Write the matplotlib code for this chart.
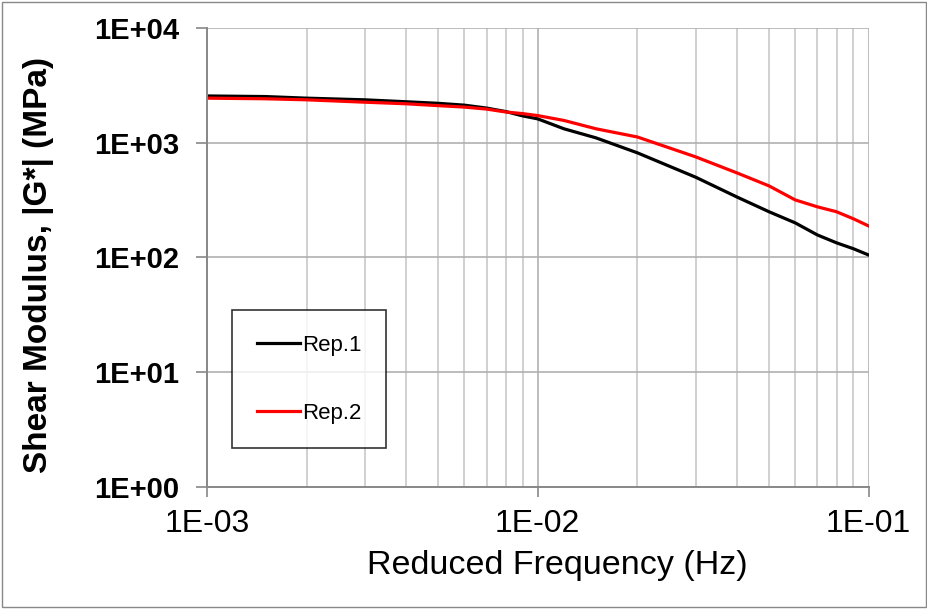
import matplotlib
matplotlib.use("Agg")
import matplotlib.pyplot as plt
from matplotlib.ticker import LogLocator, FixedLocator, NullFormatter

plt.rcParams['font.family'] = ['Liberation Sans', 'DejaVu Sans']

# reduced frequency (Hz)
freq = [1e-3, 1.5e-3, 2e-3, 3e-3, 4e-3, 5e-3, 6e-3, 7e-3, 8e-3, 9e-3, 1e-2,
        1.2e-2, 1.5e-2, 2e-2, 3e-2, 4e-2, 5e-2, 6e-2, 7e-2, 8e-2, 9e-2, 1e-1]
# |G*| in MPa
rep1 = [2550, 2520, 2440, 2360, 2270, 2200, 2120, 2000, 1865, 1710, 1610,
        1320, 1100, 815, 500, 336, 250, 200, 157, 134, 119, 105]
rep2 = [2440, 2410, 2360, 2250, 2180, 2100, 2040, 1960, 1850, 1790, 1720,
        1560, 1320, 1120, 752, 545, 420, 317, 276, 250, 217, 188]

fig = plt.figure(figsize=(9.28, 6.09), dpi=100)
ax = fig.add_axes([0.223, 0.2003, 0.713, 0.754])

ax.plot(freq, rep1, color='black', lw=2.3, label='Rep.1')
ax.plot(freq, rep2, color='#ff0000', lw=2.3, label='Rep.2')

ax.set_xscale('log')
ax.set_yscale('log')
ax.set_xlim(1e-3, 1e-1)
ax.set_ylim(1, 1e4)

xt = [1e-3, 1e-2, 1e-1]
xt_labels = ['1E-03', '1E-02', '1E-01']
yt = [1, 10, 100, 1000, 10000]
yt_labels = ['1E+00', '1E+01', '1E+02', '1E+03', '1E+04']
ax.set_xticks(xt)
ax.set_xticklabels(xt_labels, fontsize=23)
ax.set_yticks(yt)
ax.set_yticklabels(yt_labels, fontsize=21, fontweight='bold')
ax.xaxis.set_minor_locator(LogLocator(base=10, subs=range(2, 10)))
ax.xaxis.set_minor_formatter(NullFormatter())
ax.yaxis.set_minor_locator(FixedLocator([]))

ax.grid(True, which='major', color='#b0b0b0', lw=1.2)
ax.grid(True, which='minor', axis='x', color='#c8c8c8', lw=1.2)
ax.tick_params(axis='y', which='major', length=8, color='#888888', width=1.2, pad=12)
ax.tick_params(axis='x', which='major', length=7, color='#888888', width=1.2, pad=9)
ax.tick_params(which='minor', length=0)
for s in ['top', 'right']:
    ax.spines[s].set_visible(False)
for s in ['left', 'bottom']:
    ax.spines[s].set_color('#888888')
    ax.spines[s].set_linewidth(1.4)

ax.set_xlabel('Reduced Frequency (Hz)', fontsize=24.5)
ax.xaxis.set_label_coords(0.530, -0.137)
ax.set_ylabel('Shear Modulus, |G*| (MPa)', fontsize=24, fontweight='bold', va='center')
ax.yaxis.set_label_coords(-0.255, 0.484)

leg = ax.legend(loc='lower left', bbox_to_anchor=(0.038, 0.085), fontsize=16,
                frameon=True, fancybox=False, edgecolor='black', handlelength=1.95,
                handletextpad=0.1, labelspacing=2.1, borderpad=1.1, borderaxespad=0)
leg.get_frame().set_linewidth(1.2)

fig.patches.append(plt.Rectangle((0.002, 0.003), 0.996, 0.994, transform=fig.transFigure,
                                 fill=False, edgecolor='#888888', lw=1))

fig.savefig('out.png', dpi=100)
